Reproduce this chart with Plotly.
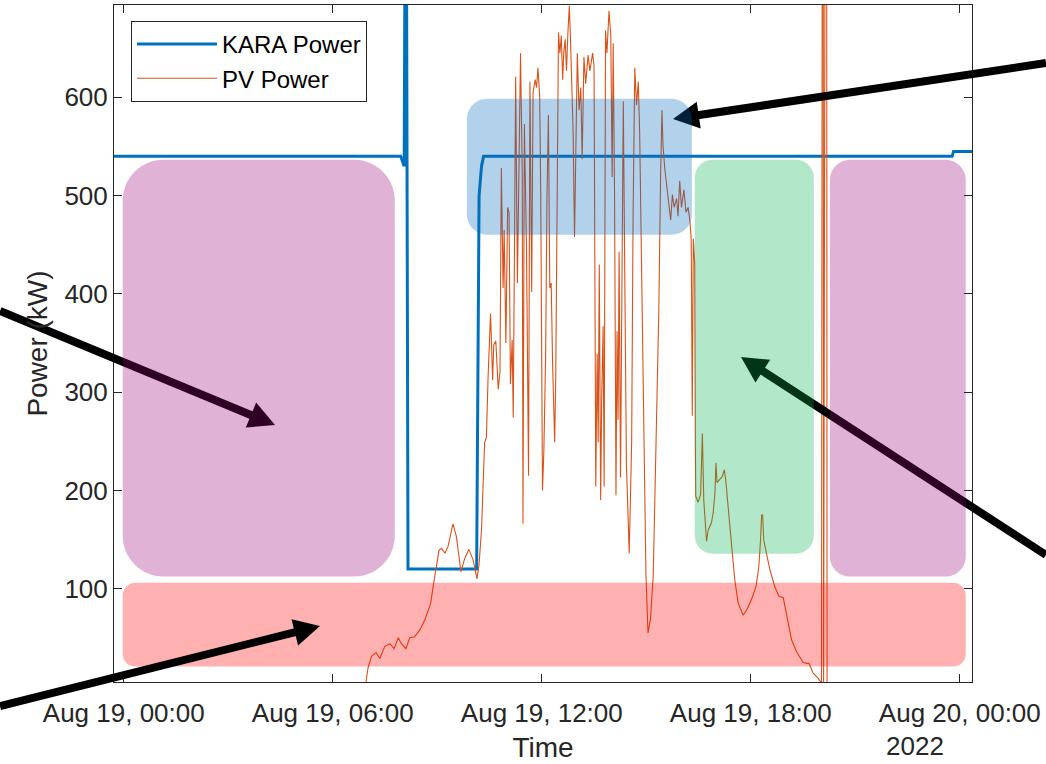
import numpy as np
import pandas as pd
import plotly.graph_objects as go

# ---------------- data (hours after 2022-08-19 00:00, kW) ----------------
BASE = pd.Timestamp("2022-08-19 00:00:00")

kara_hours = [-0.28, 7.95, 8.05, 8.10, 8.16, 10.13, 10.20, 10.27, 10.33, 23.78, 23.82, 24.35]
kara_kw = [540, 540, 530, 1000, 120, 120, 500, 530, 540, 540, 545, 545]

pv_hours = [
    -0.28, 6.90, 6.95, 7.01, 7.11, 7.24, 7.35, 7.49, 7.64, 7.76, 7.88, 7.97, 8.10, 8.21,
    8.35, 8.50, 8.64, 8.81, 8.88, 8.98, 9.05, 9.12, 9.22, 9.31, 9.45, 9.55, 9.68, 9.79,
    9.91, 10.03, 10.14, 10.20, 10.27, 10.36, 10.41, 10.46, 10.53, 10.59, 10.62, 10.68,
    10.75, 10.80, 10.84, 10.89, 10.92, 10.97, 11.02, 11.06, 11.10, 11.15, 11.18, 11.23,
    11.25, 11.30, 11.35, 11.39, 11.44, 11.46, 11.50, 11.56, 11.62, 11.66, 11.71, 11.75,
    11.81, 11.85, 11.89, 11.94, 11.97, 12.02, 12.06, 12.11, 12.15, 12.19, 12.23, 12.27,
    12.31, 12.37, 12.40, 12.44, 12.48, 12.52, 12.56, 12.60, 12.63, 12.67, 12.71, 12.75,
    12.79, 12.82, 12.86, 12.90, 12.94, 12.98, 13.02, 13.07, 13.12, 13.16, 13.21, 13.26,
    13.33, 13.38, 13.46, 13.50, 13.55, 13.59, 13.62, 13.65, 13.69, 13.72, 13.76, 13.79,
    13.83, 13.87, 13.93, 13.98, 14.02, 14.05, 14.09, 14.13, 14.16, 14.19, 14.22, 14.26,
    14.29, 14.34, 14.38, 14.43, 14.51, 14.58, 14.62, 14.67, 14.72, 14.77, 14.81, 14.87,
    14.93, 14.99, 15.05, 15.12, 15.20, 15.29, 15.36, 15.41, 15.45, 15.48, 15.53, 15.60,
    15.66, 15.70, 15.75, 15.80, 15.87, 15.91, 15.96, 16.01, 16.08, 16.14, 16.20, 16.25,
    16.29, 16.32, 16.35, 16.39, 16.41, 16.42, 16.49, 16.56, 16.61, 16.65, 16.73, 16.78,
    16.87, 16.92, 16.97, 17.00, 17.03, 17.11, 17.18, 17.24, 17.28, 17.35, 17.45, 17.54,
    17.64, 17.78, 17.88, 18.02, 18.15, 18.23, 18.28, 18.31, 18.34, 18.37, 18.45, 18.55,
    18.69, 18.81, 18.93, 19.02, 19.17, 19.31, 19.50, 19.60, 19.67, 19.72, 19.79, 19.93,
    20.03, 20.07, 20.09, 20.17, 20.19, 24.35,
]
pv_kw = [
    0, 0, 4, 19, 31, 35, 29, 41, 44, 39, 50, 44, 39, 50,
    51, 58, 68, 85, 102, 126, 139, 141, 136, 143, 166, 153, 117, 131,
    140, 129, 110, 125, 160, 249, 254, 317, 380, 312, 348, 352,
    303, 321, 528, 406, 465, 350, 488, 483, 308, 353, 274, 515,
    621, 411, 573, 645, 519, 166, 573, 452, 215, 616, 402, 605,
    618, 610, 630, 601, 501, 200, 240, 335, 501, 582, 406, 411,
    330, 249, 312, 537, 666, 645, 663, 618, 645, 659, 627, 666,
    693, 664, 618, 564, 458, 564, 645, 587, 610, 537, 641, 614,
    643, 627, 645, 632, 204, 339, 249, 430, 190, 294, 367, 204,
    668, 645, 688, 664, 519, 655, 497, 195, 362, 272, 443, 213,
    339, 596, 430, 226, 136, 249, 475, 630, 592, 616, 564, 430,
    249, 114, 55, 69, 114, 249, 384, 519, 587, 551, 528, 506,
    488, 475, 501, 488, 497, 479, 515, 488, 506, 483, 488, 475,
    456, 276, 456, 430, 241, 194, 188, 196, 258, 190, 148, 160,
    167, 177, 197, 228, 208, 211, 214, 221, 211, 183, 143, 109,
    85, 73, 78, 89, 102, 122, 150, 175, 175, 150, 136, 119,
    102, 92, 91, 75, 48, 36, 25, 24, 24, 20, 14, 9,
    4, 1500, 0, 1500, 0, 0,
]

x_tick_hours = [0, 6, 12, 18, 24]
y_tick_vals = [100, 200, 300, 400, 500, 600]
x_range_hours = [-0.28, 24.35]
y_range = [5, 694]


def to_time(hours):
    return BASE + pd.to_timedelta(np.asarray(hours, dtype=float), unit="h")


# ---------------- layout geometry ----------------
W, H = 1046, 764
ML, MR, MT, MB = 114, 74, 5, 82
PW, PH = W - ML - MR, H - MT - MB
PX_PER_H = PW / (x_range_hours[1] - x_range_hours[0])
PX_PER_KW = PH / (y_range[1] - y_range[0])

FONT = "Liberation Sans, Arial, Helvetica, sans-serif"
AX_COLOR = "#262626"


def dstr(h):
    t = BASE + pd.Timedelta(hours=float(h))
    return t.strftime("%Y-%m-%d_%H:%M:%S")


def rounded_rect(h0, h1, v0, v1, color):
    r = 0.15 * min((h1 - h0) * PX_PER_H, (v1 - v0) * PX_PER_KW)
    rx, ry = r / PX_PER_H, r / PX_PER_KW
    k = 0.5523
    p = []
    p.append(f"M{dstr(h0 + rx)},{v1}")
    p.append(f"L{dstr(h1 - rx)},{v1}")
    p.append(f"C{dstr(h1 - rx + k * rx)},{v1} {dstr(h1)},{v1 - ry + k * ry} {dstr(h1)},{v1 - ry}")
    p.append(f"L{dstr(h1)},{v0 + ry}")
    p.append(f"C{dstr(h1)},{v0 + ry - k * ry} {dstr(h1 - rx + k * rx)},{v0} {dstr(h1 - rx)},{v0}")
    p.append(f"L{dstr(h0 + rx)},{v0}")
    p.append(f"C{dstr(h0 + rx - k * rx)},{v0} {dstr(h0)},{v0 + ry - k * ry} {dstr(h0)},{v0 + ry}")
    p.append(f"L{dstr(h0)},{v1 - ry}")
    p.append(f"C{dstr(h0)},{v1 - ry + k * ry} {dstr(h0 + rx - k * rx)},{v1} {dstr(h0 + rx)},{v1}")
    p.append("Z")
    return dict(type="path", xref="x", yref="y", path=" ".join(p),
                fillcolor=color, line=dict(width=0), layer="above")


def px2paper(X, Y):
    return (X - ML) / PW, (MT + PH - Y) / PH


def arrow(tail, tip, width=8, head_len=26, head_w=27):
    tx, ty = tail
    hx, hy = tip
    dx, dy = hx - tx, hy - ty
    L = np.hypot(dx, dy)
    ux, uy = dx / L, dy / L
    nx, ny = -uy, ux
    bx, by = hx - ux * head_len, hy - uy * head_len
    ex, ey = hx - ux * head_len * 0.7, hy - uy * head_len * 0.7
    a = px2paper(tx, ty)
    b = px2paper(ex, ey)
    line = dict(type="line", xref="paper", yref="paper", x0=a[0], y0=a[1], x1=b[0], y1=b[1],
                line=dict(color="black", width=width), layer="above")
    p1 = px2paper(hx, hy)
    p2 = px2paper(bx + nx * head_w / 2, by + ny * head_w / 2)
    p3 = px2paper(bx - nx * head_w / 2, by - ny * head_w / 2)
    head = dict(type="path", xref="paper", yref="paper",
                path=f"M{p1[0]},{p1[1]} L{p2[0]},{p2[1]} L{p3[0]},{p3[1]} Z",
                fillcolor="black", line=dict(width=0), layer="above")
    return [line, head]


# ---------------- figure ----------------
fig = go.Figure()
fig.add_trace(go.Scatter(x=to_time(kara_hours), y=kara_kw, mode="lines", name="KARA Power",
                         line=dict(color="#0072BD", width=3)))
fig.add_trace(go.Scatter(x=to_time(pv_hours), y=pv_kw, mode="lines", name="PV Power",
                         line=dict(color="#D95319", width=1.1)))

shapes = []
shapes.append(rounded_rect(-0.03, 24.17, 20.7, 106.1, "rgba(255,0,0,0.31)"))
shapes += arrow((1046, 63), (673, 119))
shapes += arrow((0, 311), (275, 425))
shapes += arrow((0, 706), (320, 626))
shapes += arrow((1046, 555), (741, 357))
shapes.append(rounded_rect(-0.03, 7.78, 112.3, 536.6, "rgba(150,0,118,0.30)"))
shapes.append(rounded_rect(20.27, 24.17, 112.3, 536.6, "rgba(150,0,118,0.30)"))
shapes.append(rounded_rect(9.85, 16.31, 460.3, 598.7, "rgba(0,105,192,0.30)"))
shapes.append(rounded_rect(16.39, 19.81, 135.6, 536.6, "rgba(0,175,78,0.30)"))

yr_x, yr_y = px2paper(915, 746)

fig.update_layout(
    width=W, height=H,
    margin=dict(l=ML, r=MR, t=MT, b=MB, pad=0),
    paper_bgcolor="white", plot_bgcolor="white",
    font=dict(family=FONT, color=AX_COLOR),
    shapes=shapes,
    showlegend=True,
    legend=dict(x=px2paper(131, 0)[0], y=px2paper(0, 21)[1], xanchor="left", yanchor="top",
                bgcolor="white", bordercolor=AX_COLOR, borderwidth=1,
                font=dict(family=FONT, size=24, color="black"), itemwidth=80,
                tracegroupgap=0),
    annotations=[dict(text="2022", xref="paper", yref="paper", x=yr_x, y=yr_y,
                      showarrow=False, font=dict(family=FONT, size=26, color=AX_COLOR),
                      xanchor="center", yanchor="middle")],
    xaxis=dict(type="date", range=list(to_time(x_range_hours)), tickvals=list(to_time(x_tick_hours)),
               tickformat="%b %d, %H:%M", ticks="inside", ticklen=8, tickwidth=1,
               tickcolor=AX_COLOR, showline=True, linecolor=AX_COLOR, linewidth=1,
               mirror="allticks", showgrid=False, zeroline=False, ticklabelstandoff=8,
               tickfont=dict(family=FONT, size=26, color=AX_COLOR),
               title=dict(text="Time", font=dict(family=FONT, size=28, color=AX_COLOR), standoff=10)),
    yaxis=dict(range=y_range, tickvals=y_tick_vals, ticks="inside", ticklen=8, tickwidth=1,
               tickcolor=AX_COLOR, showline=True, linecolor=AX_COLOR, linewidth=1,
               mirror="allticks", showgrid=False, zeroline=False,
               tickfont=dict(family=FONT, size=26, color=AX_COLOR),
               title=dict(text="Power (kW)", font=dict(family=FONT, size=28, color=AX_COLOR), standoff=8)),
)

fig.write_html("out.html", config={"displayModeBar": False},
               post_script="document.body.style.margin='0';document.body.style.overflow='hidden';")
